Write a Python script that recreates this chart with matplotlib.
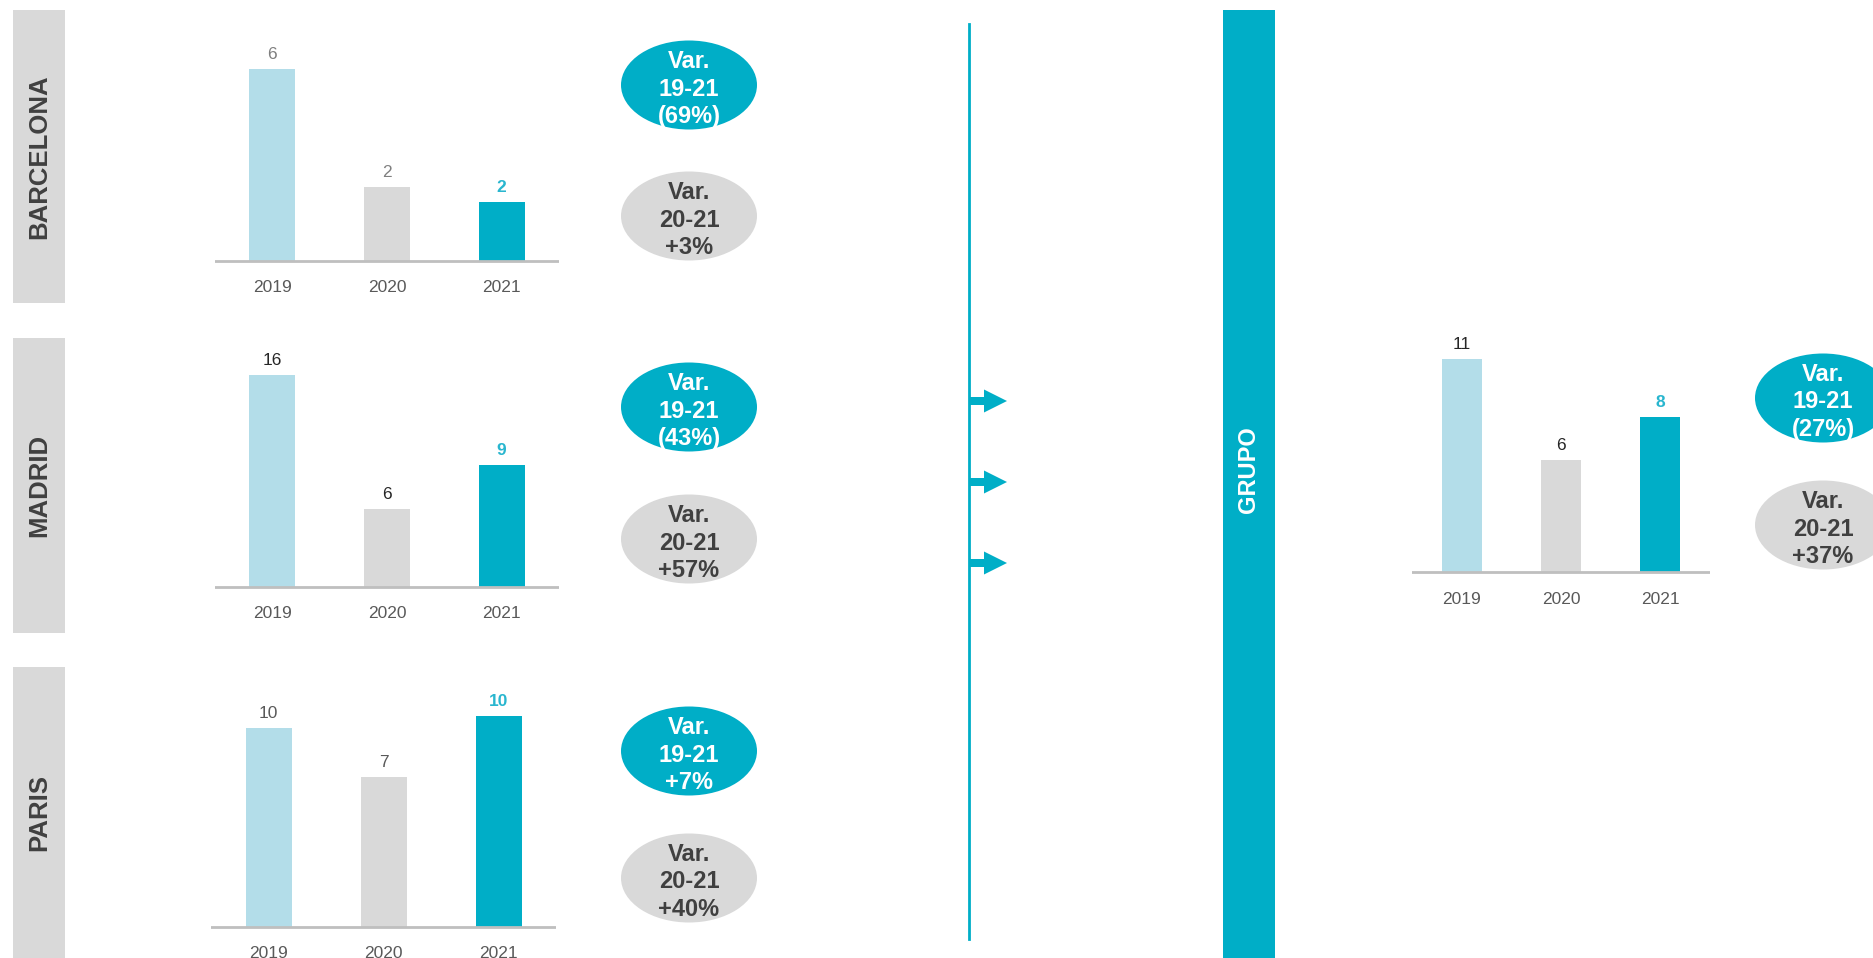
import matplotlib
matplotlib.use("Agg")
import matplotlib.pyplot as plt
from matplotlib import font_manager
from matplotlib.patches import Ellipse, Rectangle, FancyArrow

plt.rcParams["font.family"] = ["Liberation Sans", "DejaVu Sans"]


def font_file(stem):
    # pick the exact Liberation file so bold doesn't fall back to the Narrow cut
    for f in font_manager.findSystemFonts():
        if f.endswith(stem + ".ttf"):
            return f
    return None


BOLD_FILE = font_file("LiberationSans-Bold")


def bold(size):
    if BOLD_FILE:
        return font_manager.FontProperties(fname=BOLD_FILE, size=size)
    return font_manager.FontProperties(family="DejaVu Sans", weight="bold", size=size)


W, H = 1873, 958
TEAL = "#00AEC7"
LIGHT = "#B3DDE9"
GREY = "#D9D9D9"
DARK = "#404040"

years = ["2019", "2020", "2021"]
barcelona = [6.2, 2.4, 1.9]
madrid = [16.0, 5.9, 9.2]
paris = [9.8, 7.4, 10.4]
grupo = [11.0, 5.8, 8.0]

var_19_21 = {"BARCELONA": "(69%)", "MADRID": "(43%)", "PARIS": "+7%", "GRUPO": "(27%)"}
var_20_21 = {"BARCELONA": "+3%", "MADRID": "+57%", "PARIS": "+40%", "GRUPO": "+37%"}

fig = plt.figure(figsize=(W / 100, H / 100), dpi=100)
bg = fig.add_axes([0, 0, 1, 1])
bg.set_xlim(0, W)
bg.set_ylim(H, 0)
bg.axis("off")


def px_axes(x0, y0, x1, y1):
    return fig.add_axes([x0 / W, 1 - y1 / H, (x1 - x0) / W, (y1 - y0) / H])


def bar_panel(vals, x0, x1, base, ppu, label_col):
    # axis box from the top of the figure down to the baseline, y scale in px per unit
    ax = px_axes(x0, 0, x1, base + 40)
    span = (base + 40) / ppu
    ax.set_ylim(-40 / ppu, span - 40 / ppu)
    ax.set_xlim(-0.5, 2.5)
    ax.bar(range(3), vals, width=0.4, color=[LIGHT, GREY, TEAL], zorder=2)
    ax.axhline(0, color="#BFBFBF", lw=2, zorder=3)
    for i, v in enumerate(vals):
        if i == 2:
            ax.annotate(f"{v:.0f}", (i, v), xytext=(0, 5), textcoords="offset points",
                        ha="center", va="bottom", color="#29B6CF", fontproperties=bold(12.5))
        else:
            ax.annotate(f"{v:.0f}", (i, v), xytext=(0, 5), textcoords="offset points",
                        ha="center", va="bottom", fontsize=12.5, color=label_col)
        ax.text(i, -27 / ppu, years[i], ha="center", va="center", fontsize=12.5, color="#595959")
    ax.axis("off")
    return ax


def ovals(cx, cy_top, cy_bot, key):
    for cy, fc, tc, txt in [(cy_top, TEAL, "white", f"Var.\n19-21\n{var_19_21[key]}"),
                            (cy_bot, GREY, DARK, f"Var.\n20-21\n{var_20_21[key]}")]:
        bg.add_patch(Ellipse((cx, cy), 136, 89, facecolor=fc, edgecolor="none"))
        bg.text(cx, cy + 4, txt, ha="center", va="center", color=tc,
                linespacing=1.26, fontproperties=bold(17))


# region tabs on the left
for name, y0, y1 in [("BARCELONA", 10, 303), ("MADRID", 338, 633), ("PARIS", 667, 958)]:
    bg.add_patch(Rectangle((13, y0), 52, y1 - y0, facecolor=GREY, edgecolor="none"))
    bg.text(39, (y0 + y1) / 2, name, rotation=90, ha="center", va="center",
            color=DARK, fontproperties=bold(18.5))

bar_panel(barcelona, 215, 559, 261, 192 / 6.2, "#7F7F7F")
bar_panel(madrid, 215, 559, 587, 212 / 16.0, "#262626")
bar_panel(paris, 211, 556, 927, 199 / 9.8, "#595959")
bar_panel(grupo, 1412, 1710, 572, 213 / 11.0, "#262626")

ovals(689, 85, 216, "BARCELONA")
ovals(689, 407, 539, "MADRID")
ovals(689, 751, 878, "PARIS")
ovals(1823, 398, 525, "GRUPO")

# connector line with arrows
bg.plot([969, 969], [24, 939], color=TEAL, lw=2)
for y in [401, 482, 563]:
    bg.add_patch(FancyArrow(969, y, 38, 0, width=8, head_width=23, head_length=23,
                            length_includes_head=True, color=TEAL, lw=0))

# group tab
bg.add_patch(Rectangle((1223, 10), 52, H - 10, facecolor=TEAL, edgecolor="none"))
bg.text(1249, 470, "GRUPO", rotation=90, ha="center", va="center",
        color="white", fontproperties=bold(17))

fig.savefig("out.png", dpi=100)
